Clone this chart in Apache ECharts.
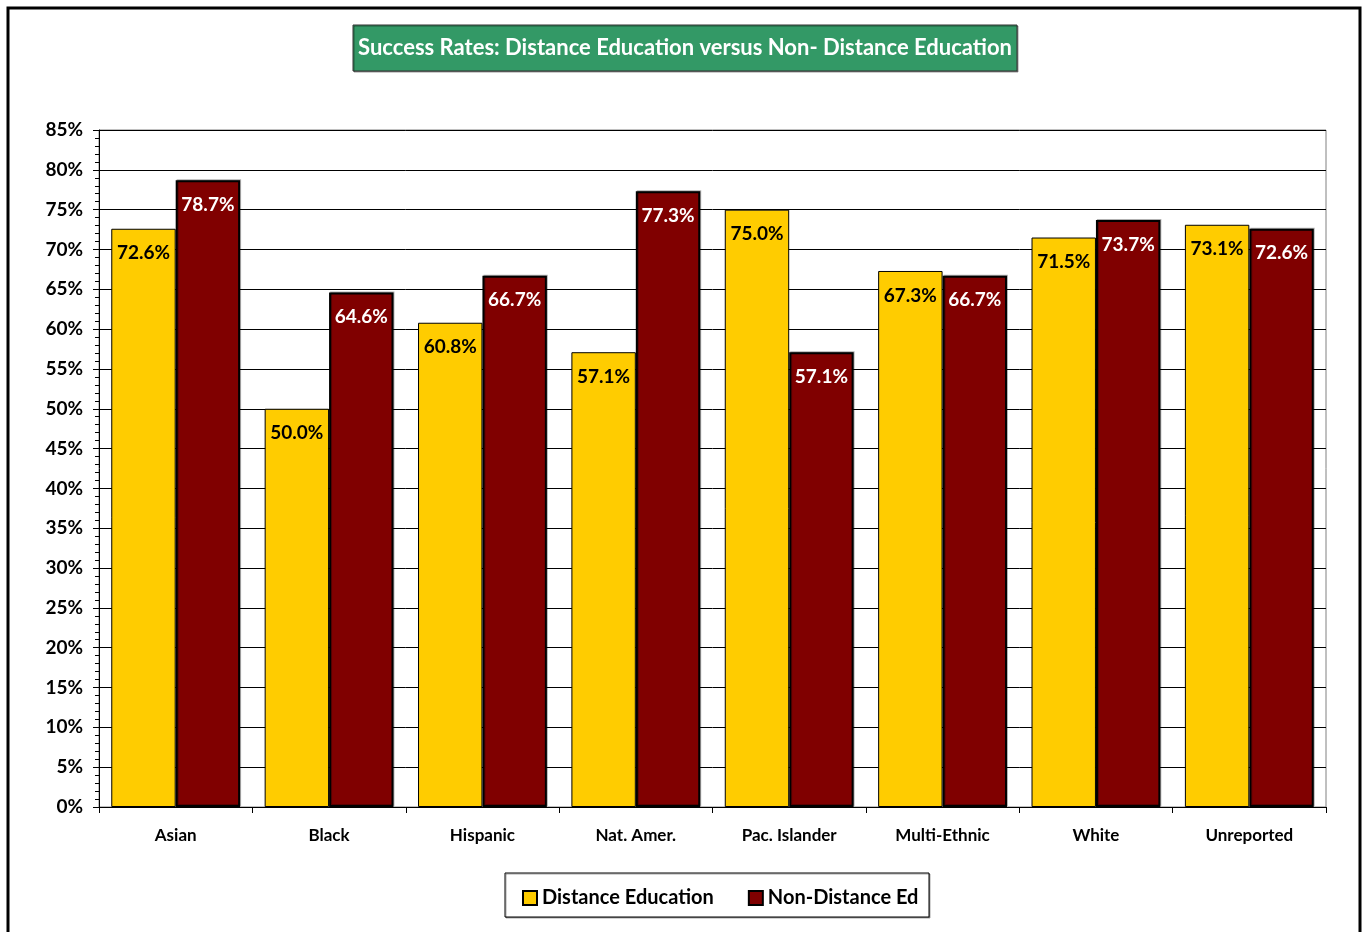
<!DOCTYPE html>
<html>
<head>
<meta charset="utf-8">
<script src="https://cdn.jsdelivr.net/npm/echarts@6/dist/echarts.min.js"></script>
<style>
  html, body { margin: 0; padding: 0; background: #fff; }
  #chart { width: 1367px; height: 932px; }
</style>
</head>
<body>
<div id="chart"></div>
<script>
const categories = ["Asian", "Black", "Hispanic", "Nat. Amer.", "Pac. Islander", "Multi-Ethnic", "White", "Unreported"];
const distanceEd = [72.6, 50.0, 60.8, 57.1, 75.0, 67.3, 71.5, 73.1];
const nonDistanceEd = [78.7, 64.6, 66.7, 77.3, 57.1, 66.7, 73.7, 72.6];
const seriesNames = ["Distance Education", "Non-Distance Ed"];
const titleText = "Success Rates: Distance Education versus Non- Distance Education";

const font = "Lato";
const chart = echarts.init(document.getElementById("chart"));

const barLabel = (color) => ({
  show: true,
  position: "insideTop",
  distance: 15,
  color: color,
  fontFamily: font,
  fontWeight: "bold",
  fontSize: 19,
  formatter: (p) => p.value.toFixed(1) + "%"
});

chart.setOption({
  animation: false,
  backgroundColor: "#fff",
  graphic: [
    {
      type: "rect",
      shape: { x: 8, y: 8, width: 1352, height: 940 },
      style: { fill: "none", stroke: "#000", lineWidth: 3 },
      silent: true
    },
    {
      type: "rect",
      shape: { x: 353, y: 25, width: 664, height: 46 },
      style: { fill: "#339966", stroke: "#333", lineWidth: 1, shadowColor: "rgba(0,0,0,0.4)", shadowOffsetX: 1, shadowOffsetY: 1 },
      z: 10
    },
    {
      type: "text",
      x: 685, y: 48,
      style: {
        text: titleText, fill: "#fff", fontFamily: font, fontWeight: "bold", fontSize: 22,
        align: "center", verticalAlign: "middle"
      },
      z: 11
    },
    {
      type: "rect",
      shape: { x: 505, y: 873, width: 424, height: 44 },
      style: { fill: "#fff", stroke: "#000", lineWidth: 1, shadowColor: "rgba(0,0,0,0.35)", shadowOffsetX: 1, shadowOffsetY: 1 },
      z: 1
    }
  ],
  legend: {
    data: seriesNames,
    left: 517, top: 883,
    itemWidth: 14, itemHeight: 14, itemGap: 34,
    icon: "rect",
    textStyle: { fontFamily: font, fontWeight: "bold", fontSize: 20, color: "#000", padding: [0, 0, 0, 0] },
    z: 5
  },
  grid: {
    left: 99, right: 41, top: 130, bottom: 125,
    show: true, borderColor: "#808080", borderWidth: 1
  },
  xAxis: {
    type: "category",
    data: categories,
    axisLine: { lineStyle: { color: "#000", width: 1 } },
    axisTick: { show: true, alignWithLabel: false, length: 6, lineStyle: { color: "#000" } },
    axisLabel: { color: "#000", fontFamily: font, fontWeight: "bold", fontSize: 17, margin: 20 }
  },
  yAxis: {
    type: "value",
    min: 0, max: 85, interval: 5,
    axisLine: { show: true, lineStyle: { color: "#000", width: 1 } },
    axisTick: { show: true, length: 6, lineStyle: { color: "#000" } },
    minorTick: { show: true, splitNumber: 5, length: 4, lineStyle: { color: "#000" } },
    splitLine: { show: true, lineStyle: { color: "#000", width: 1 } },
    axisLabel: { color: "#000", fontFamily: font, fontWeight: "bold", fontSize: 19, margin: 16, formatter: "{value}%" }
  },
  series: [
    {
      name: seriesNames[0],
      type: "bar",
      data: distanceEd,
      barWidth: "42%",
      barGap: "0%",
      itemStyle: { color: "#FFCC00", borderColor: "#000", borderWidth: 1 },
      label: barLabel("#000")
    },
    {
      name: seriesNames[1],
      type: "bar",
      data: nonDistanceEd,
      barWidth: "42%",
      itemStyle: { color: "#800000", borderColor: "#000", borderWidth: 2, shadowColor: "rgba(0,0,0,0.3)", shadowOffsetX: 1, shadowOffsetY: -1 },
      label: barLabel("#fff")
    }
  ]
});
</script>
</body>
</html>
